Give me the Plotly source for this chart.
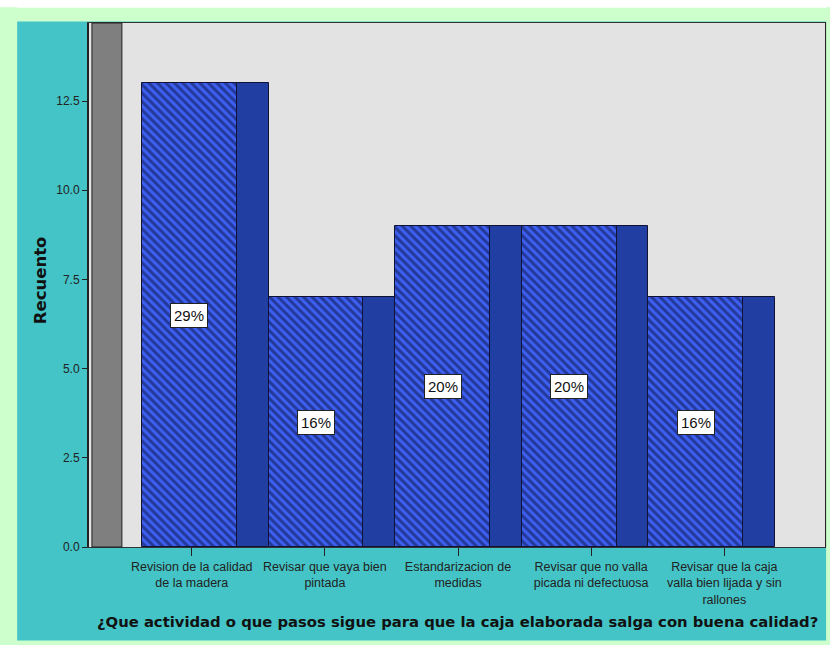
import plotly.graph_objects as go

categories = [
    "Revision de la calidad<br>de la madera",
    "Revisar que vaya bien<br>pintada",
    "Estandarizacion de<br>medidas",
    "Revisar que no valla<br>picada ni defectuosa",
    "Revisar que la caja<br>valla bien lijada y sin<br>rallones",
]
counts = [13, 7, 9, 9, 7]
y_tickvals = [0, 2.5, 5.0, 7.5, 10.0, 12.5]
x_title = "¿Que actividad o que pasos sigue para que la caja elaborada salga con buena calidad?"
y_title = "Recuento"

total = sum(counts)
pct = [f"{round(100 * c / total)}%" for c in counts]
idx = list(range(len(counts)))

TEAL = "#44c4c6"
GREEN = "#ccffcc"
face_w = 0.748
side_w = 0.252
tick_step = 1.0512
tick_off = 0.02

fig = go.Figure()
fig.add_trace(go.Bar(
    x=idx, y=counts, width=face_w,
    marker=dict(color="#3a5cf0",
                line=dict(color="#111133", width=1),
                pattern=dict(shape="\\", fgcolor="#0a1240", bgcolor="#3d60f2",
                             size=6, solidity=0.5)),
    hoverinfo="skip", showlegend=False,
))
fig.add_trace(go.Bar(
    x=[i + (face_w + side_w) / 2 for i in idx], y=counts, width=side_w,
    marker=dict(color="#213fa3", line=dict(color="#111133", width=1)),
    hoverinfo="skip", showlegend=False,
))

for i, c, p in zip(idx, counts, pct):
    fig.add_annotation(x=i, y=c / 2, text=p, showarrow=False,
                       font=dict(family="Liberation Sans, Arial", size=15, color="#111"),
                       bgcolor="white", bordercolor="#222", borderwidth=1, borderpad=3)

fig.add_annotation(x=0.5, y=-0.1431, xref="paper", yref="paper", text=f"<b>{x_title}</b>",
                   showarrow=False, xanchor="center", yanchor="middle",
                   font=dict(family="DejaVu Sans", size=14.8, color="#111"))
fig.add_annotation(x=-0.0664, y=0.5095, xref="paper", yref="paper", text=f"<b>{y_title}</b>",
                   showarrow=False, textangle=-90, xanchor="center", yanchor="middle",
                   font=dict(family="DejaVu Sans", size=16.5, color="#111"))

shapes = [
    # left 3D wall
    dict(type="rect", xref="paper", yref="paper", x0=0.004, x1=0.0447, y0=0, y1=1,
         fillcolor="#7f7f7f", line=dict(color="#222", width=1), layer="above"),
    # outer green border and white strip
    dict(type="rect", xref="paper", yref="paper", x0=-0.13, x1=1.01, y0=1.003, y1=1.0439,
         fillcolor=GREEN, line=dict(width=0), layer="above"),
    dict(type="rect", xref="paper", yref="paper", x0=-0.13, x1=1.01, y0=1.029, y1=1.05,
         fillcolor="white", line=dict(width=0), layer="above"),
    dict(type="rect", xref="paper", yref="paper", x0=-0.13, x1=-0.0976, y0=-0.2, y1=1.03,
         fillcolor=GREEN, line=dict(width=0), layer="above"),
    dict(type="rect", xref="paper", yref="paper", x0=-0.13, x1=1.01, y0=-0.19, y1=-0.1785,
         fillcolor=GREEN, line=dict(width=0), layer="above"),
    dict(type="rect", xref="paper", yref="paper", x0=1.0015, x1=1.01, y0=-0.19, y1=1.03,
         fillcolor=GREEN, line=dict(width=0), layer="above"),
]

fig.update_layout(
    width=830, height=645,
    margin=dict(l=89, r=3, t=23, b=98),
    paper_bgcolor=TEAL, plot_bgcolor="#e3e3e3",
    barmode="overlay", bargap=0,
    shapes=shapes,
    xaxis=dict(range=[-0.7913, 5.020], showgrid=False, zeroline=False,
               tickvals=[tick_off + tick_step * i for i in idx], ticktext=categories,
               ticks="outside", ticklen=8, tickcolor="#222",
               showline=True, linecolor="#333", mirror=True,
               tickfont=dict(family="Liberation Sans, Arial", size=12.5, color="#222")),
    yaxis=dict(range=[0, 14.69], showgrid=False, zeroline=False,
               tickvals=y_tickvals, tickformat=".1f",
               ticks="outside", ticklen=5, tickcolor="#222",
               showline=True, linecolor="#222", linewidth=2, mirror=True,
               tickfont=dict(family="Liberation Sans, Arial", size=12, color="#222")),
)

fig.write_html("out.html")
